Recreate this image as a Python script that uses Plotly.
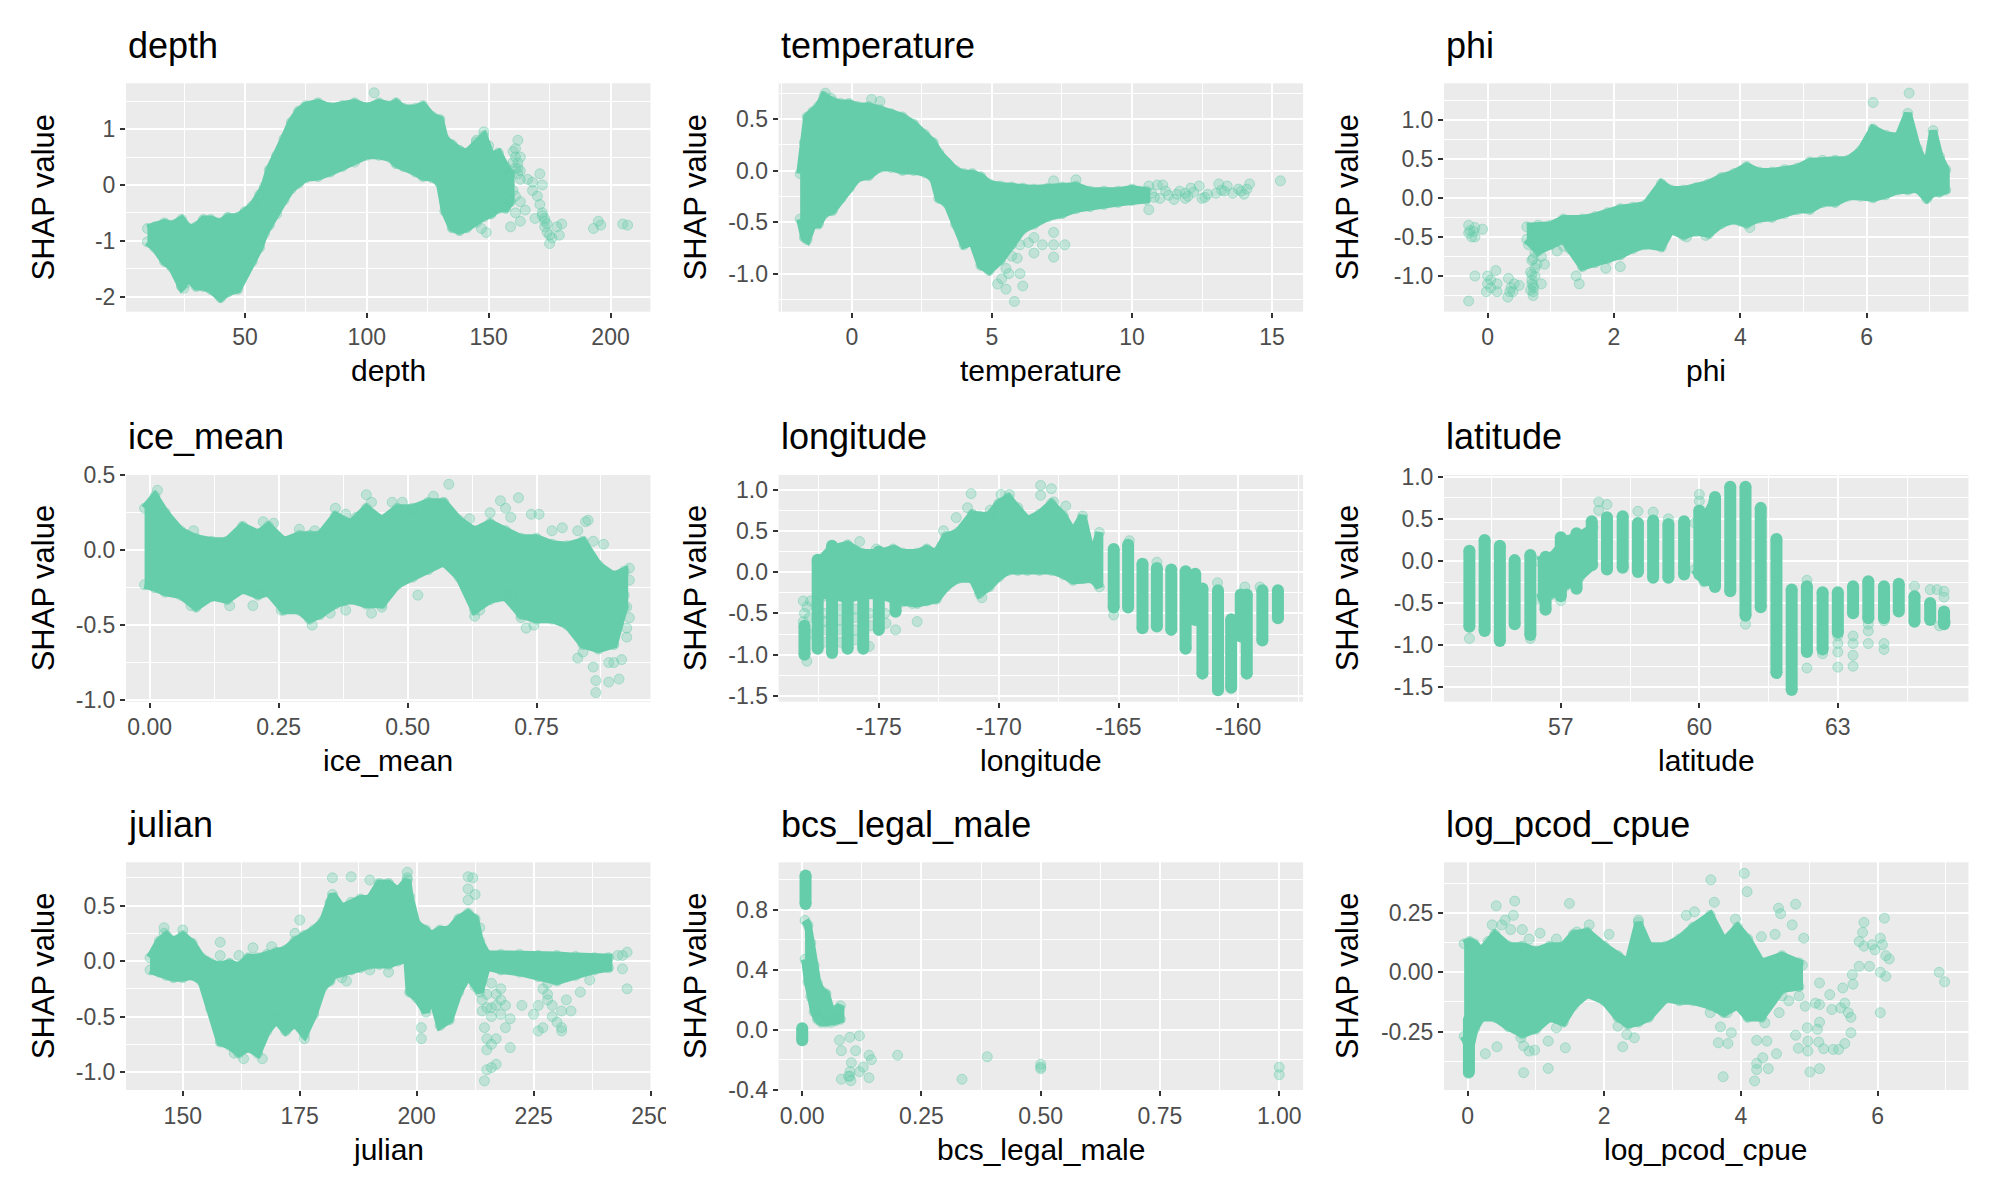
import plotly.graph_objects as go

COLOR = "#66CDAA"
FONT = "Liberation Sans"

# ---------- depth ----------
depth_x = [10,13,17,20,24,27,30,33,36,40,43,47,50,53,56,58,60,63,66,69,72,75,80,85,90,95,100,105,110,112,115,120,123,127,130,132,135,138,141,145,148,151,154,157,159]
depth_hi = [-.78,-.75,-.68,-.72,-.62,-.78,-.75,-.62,-.62,-.68,-.58,-.58,-.48,-.38,-.18,-.03,.27,.52,.82,1.12,1.32,1.42,1.47,1.39,1.42,1.47,1.39,1.47,1.42,1.47,1.37,1.37,1.42,1.22,1.17,.82,.72,.62,.57,.77,.87,.52,.57,.32,.2]
depth_lo = [-1.02,-1.12,-1.37,-1.47,-1.82,-1.67,-1.82,-1.82,-1.87,-2.02,-1.92,-1.87,-1.57,-1.37,-1.12,-.87,-.72,-.52,-.27,-.07,.03,.13,.15,.23,.33,.41,.53,.53,.48,.38,.33,.23,.15,.13,.03,-.47,-.77,-.82,-.77,-.67,-.57,-.52,-.42,-.42,-.3]
depth_px = [103,159,162,161,163,162,163,163,161,163,165,166,168,168,170,171,172,171,169,172,173,173,174,175,175,176,178,179,180,193,195,196,205,207,160,161,162,160,161,162,163,160,161,174,173,172,24,25,26,149,147,145,148,150]
depth_py = [1.65,-.75,.8,.65,.5,.3,.1,-.3,-.5,-.65,-.45,.1,.05,-.1,-.2,.2,0,-.35,-.6,-.5,-.65,-.75,-.85,-1.05,-.9,-.95,-.75,-.9,-.7,-.78,-.65,-.72,-.7,-.72,.4,.3,.2,.6,.5,.4,.25,-.1,-.2,-.7,-.6,-.55,-1.8,-1.85,-1.75,-.85,-.78,.8,.95,.7]

# ---------- temperature ----------
temp_x = [-1.85,-1.7,-1.6,-1.4,-1.2,-1.0,-.7,-.4,-.1,.2,.6,1.0,1.4,1.8,2.2,2.6,2.9,3.1,3.4,3.7,4.0,4.3,4.6,4.9,5.3,5.7,6.1,6.5,7.0,7.5,8.0,8.5,9.0,9.5,10,10.5]
temp_hi = [-.03,.27,.52,.57,.62,.72,.67,.65,.65,.62,.62,.59,.55,.52,.45,.35,.27,.17,.07,0,-.03,-.03,-.06,-.13,-.15,-.16,-.17,-.18,-.17,-.16,-.15,-.2,-.2,-.2,-.18,-.2]
temp_lo = [-.47,-.65,-.67,-.52,-.52,-.42,-.39,-.27,-.17,-.07,-.05,.03,.03,0,0,-.02,-.07,-.27,-.32,-.52,-.72,-.69,-.92,-.97,-.87,-.72,-.57,-.52,-.45,-.42,-.37,-.35,-.33,-.31,-.29,-.28]
temp_px = [5.8,5.5,5.2,5.35,5.6,6.0,6.1,5.9,5.5,5.7,6.0,6.3,6.5,6.5,6.8,7.2,7.2,7.2,7.6,11.1,11.5,11.9,12.1,12.5,12.7,13.1,13.3,13.4,13.8,14,14.2,15.3,11.2,10.6,11,12,12.4,13,10.8,11.3,11.7,12.2,12.6,13.2,13.6,14.1,13.9,10.7,11.6,11.9,.7,1.0,-.95,-.75,7.2,8.0,10.6,10.9]
temp_py = [-1.27,-1.15,-1.1,-1.05,-1.0,-1.0,-1.12,-.85,-.95,-.83,-.72,-.7,-.65,-.8,-.72,-.6,-.72,-.84,-.72,-.14,-.28,-.22,-.17,-.27,-.23,-.13,-.2,-.15,-.18,-.23,-.13,-.1,-.2,-.38,-.27,-.25,-.15,-.22,-.26,-.24,-.2,-.21,-.26,-.19,-.22,-.18,-.2,-.22,-.23,-.27,.69,.67,.75,.7,-.1,-.09,-.15,-.14]

# ---------- phi ----------
phi_x = [.62,.8,1.0,1.2,1.5,1.7,1.9,2.1,2.3,2.5,2.75,2.9,3.1,3.3,3.5,3.7,3.9,4.1,4.3,4.5,4.7,4.9,5.1,5.3,5.5,5.7,5.9,6.1,6.3,6.5,6.65,6.8,6.95,7.05,7.15,7.25]
phi_hi = [-.37,-.35,-.35,-.27,-.27,-.24,-.19,-.14,-.12,-.09,.18,.1,.1,.13,.18,.26,.31,.4,.33,.33,.36,.38,.46,.48,.48,.48,.6,.88,.8,.78,1.08,.63,.38,.86,.53,.36]
phi_lo = [-.53,-.68,-.6,-.53,-.88,-.83,-.78,-.73,-.65,-.6,-.63,-.41,-.48,-.43,-.46,-.33,-.28,-.33,-.26,-.25,-.2,-.15,-.15,-.06,-.06,.02,.02,0,.04,.1,.1,.12,-.01,.07,.07,.1]
phi_px = [-.3,-.28,-.25,-.22,-.3,-.2,-.08,-.2,-.2,0,.13,0,-.02,.05,.15,.15,.33,.32,.37,.4,.42,.5,.35,-.3,.05,.72,.7,.75,.7,.85,.72,.75,.85,.75,.9,1.1,1.2,1.3,1.4,1.45,1.87,2.1,6.1,6.67,.65,.68,.73,.78,.68,.72,4.0,4.15,3.15,3.45,.7,.72,.7]
phi_py = [-.35,-.42,-.5,-.43,-.45,-.5,-.4,-.38,-1.0,-1.0,-.93,-1.1,-1.2,-1.15,-1.1,-1.2,-1.03,-1.27,-1.15,-1.2,-1.1,-1.12,-1.2,-1.32,-1.05,-1.25,-.8,-1.0,-1.1,-1.1,-1.2,-.9,-.75,-.7,-.85,-.68,-.62,-.65,-1.0,-1.1,-.9,-.88,1.22,1.34,-.6,-.95,-1.15,-.85,-1.18,-.78,-.3,-.38,-.5,-.48,-1.05,-1.12,-.98]

# ---------- ice_mean ----------
ice_x = [-.01,.01,.03,.06,.09,.12,.15,.18,.21,.23,.26,.29,.31,.33,.36,.39,.42,.45,.48,.51,.54,.57,.60,.63,.66,.69,.72,.75,.78,.81,.84,.87,.90,.92]
ice_hi = [.28,.36,.25,.13,.08,.06,.06,.16,.11,.16,.06,.1,.1,.1,.23,.18,.28,.2,.28,.28,.32,.32,.2,.13,.18,.13,.08,.08,.04,.03,.06,-.1,-.17,-.14]
ice_lo = [-.23,-.25,-.28,-.3,-.38,-.31,-.33,-.26,-.3,-.28,-.4,-.4,-.46,-.43,-.36,-.33,-.36,-.36,-.23,-.18,-.13,-.08,-.18,-.4,-.33,-.31,-.43,-.46,-.46,-.5,-.63,-.66,-.63,-.38]
ice_px = [.015,.03,.085,.08,.155,.2,.255,.315,.42,.43,.58,.52,.68,.715,.69,.74,.755,.85,.845,.88,.82,.63,.64,.72,.73,.745,.83,.84,.86,.865,.865,.89,.91,.9,.89,.915,.925,.925,.93,.925,.92,.93,.93,.24,.22,.29,.32,.36,.38,.4,.47,.49,.55,.62,.66,.7,.78,.8,.83,.86,.43,.45,.35,.38,.27,.66,.7]
ice_py = [.4,.24,.13,-.37,-.37,-.37,-.4,-.5,.37,.32,.44,-.3,.33,.35,.28,.24,.24,.2,.19,.04,.03,-.44,-.4,-.45,-.52,-.5,-.72,-.68,-.78,-.87,-.95,-.88,-.86,-.75,-.75,-.73,-.58,-.52,-.45,-.38,-.3,-.2,-.12,.18,.19,.14,.13,.28,.24,.22,.32,.32,.36,.21,.25,.22,.13,.15,.13,.06,-.42,-.38,-.42,-.4,-.39,-.32,-.3]

# ---------- longitude ----------
lon_x = [-177.5,-177,-176.3,-175.7,-175,-174.4,-174,-173.4,-173,-172.6,-172.2,-171.7,-171.1,-170.8,-170.4,-170,-169.6,-169.2,-168.8,-168.3,-167.8,-167.3,-166.9,-166.5,-166.1,-165.8]
lon_hi = [.13,.28,.33,.23,.23,.28,.23,.23,.28,.23,.43,.48,.7,.68,.68,.83,.9,.78,.63,.7,.83,.68,.48,.68,.18,.48]
lon_lo = [-.28,-.28,-.33,-.28,-.28,-.33,-.36,-.38,-.35,-.33,-.18,-.08,-.08,-.26,-.18,-.06,.02,.02,.02,.02,.02,-.03,-.1,-.08,-.08,-.18]
lon_sx = [-178.1,-177.55,-176.95,-176.3,-175.65,-175,-174.3,-165.2,-164.6,-164,-163.4,-162.8,-162.2,-161.8,-161.5,-160.85,-160.3,-159.9,-159.65,-159,-158.35]
lon_shi = [-.65,.15,.32,.3,.2,.25,.25,.28,.33,.1,.05,.03,.01,-.02,-.2,-.22,-.57,-.27,-.27,-.22,-.22]
lon_slo = [-1.0,-.93,-.98,-.93,-.93,-.7,-.48,-.43,-.43,-.68,-.66,-.7,-.93,-.58,-1.23,-1.43,-1.4,-.78,-1.23,-.83,-.56]
lon_px = [-171.15,-171.3,-171.77,-168.25,-167.8,-168.25,-169.9,-169.55,-170.7,-173.4,-174.3,-165.2,-160.87,-159.73,-159.1,-163.4,-164.55,-167.2,-167.7,-175.8,-175.1,-170.35,-172.3,-178.15,-178.1,-178,-177.85,-178.15,-177.9,-177.75,-178,-177.3,-177.2,-177.35,-176.65,-176.6,-176,-176,-175.4,-175.4,-174.75,-173.6,-177.25,-176.65,-176,-175.35,-177.3,-176.6,-175.95,-174.7]
lon_py = [.95,.78,.66,1.05,1.01,.93,.94,.94,-.31,-.6,-.7,-.52,-.13,-.18,-.18,.12,.38,.8,.85,.37,.28,.75,.5,-.35,-.5,-.42,-.35,-.6,-.55,-.75,-1.08,-.5,-.7,-.3,-.7,-.45,-.45,-.7,-.5,-.9,-.5,-.38,-.6,-.58,-.55,-.65,-.85,-.85,-.82,-.62]

# ---------- latitude ----------
lat_x = [56.5,56.8,57.1,57.4,57.7]
lat_hi = [.0,.05,.25,.3,.4]
lat_lo = [-.45,-.4,-.3,-.2,-.05]
lat_bx = [59.9,60.1,60.3]
lat_bhi = [.45,.5,.7]
lat_blo = [-.1,-.25,-.25]
lat_sx = [55.02,55.35,55.68,56.0,56.34,56.67,57,57.34,57.67,58,58.34,58.67,59,59.33,59.67,60,60.34,60.67,61,61.33,61.67,62,62.33,62.67,63,63.33,63.66,64,64.32,64.66,65,65.3]
lat_shi = [.12,.25,.18,.01,.07,.05,.28,.33,.47,.52,.53,.45,.48,.44,.47,.6,.76,.88,.88,.63,.26,-.34,-.3,-.37,-.37,-.3,-.24,-.3,-.27,-.42,-.5,-.6]
lat_slo = [-.78,-.83,-.95,-.75,-.88,-.58,-.42,-.33,-.05,-.1,-.08,-.13,-.2,-.2,-.16,-.16,-.31,-.36,-.65,-.55,-1.33,-1.53,-1.08,-1.05,-.85,-.62,-.68,-.68,-.6,-.72,-.7,-.75]
lat_px = [55.02,56.34,57.0,57.82,58,57.82,58.67,59,59.33,60,60,61,62.33,62.67,63,63,63,63,63.33,63.33,63.33,63.33,63.66,63.66,63.66,64,64,64,64.66,64.66,65,65.15,65.3,65.3,65.3,65.2,65.33,62.33,62.33,62.33,62.33,62.67,62.67]
lat_py = [-.92,-.92,-.47,.7,.67,.6,.59,.58,.5,.79,.71,-.75,-1.27,-1.1,-1.26,-1.08,-.98,-.89,-1.25,-1.12,-.98,-.89,-.98,-.83,-.75,-.98,-1.05,-.71,-.3,-.42,-.34,-.34,-.36,-.43,-.63,-.77,-.73,-.23,-.87,-.96,-1.08,-.95,-1.05]

# ---------- julian ----------
jul_x = [143,145,146.5,148,150,152,154,156,158,160,162,164,166,168,170,172,174,176,178,180,181.5,182,184,186,188,190,192,194,196,198,198.5,200,202,203,205,207,209,211,212.5,213.5,215,218,222,226,230,234,238,241]
jul_hi = [.03,.18,.23,.18,.23,.16,.03,-.02,-.04,-.02,-.05,.03,.03,.06,.08,.1,.18,.23,.28,.36,.53,.6,.48,.53,.56,.56,.7,.7,.63,.73,.58,.33,.28,.23,.28,.28,.38,.43,.38,.18,.06,.06,.06,.05,.05,.04,.03,.03]
jul_lo = [-.08,-.1,-.13,-.15,-.15,-.13,-.18,-.43,-.73,-.76,-.83,-.78,-.83,-.63,-.53,-.63,-.56,-.66,-.48,-.23,-.18,-.13,-.1,-.08,-.06,-.03,-.03,-.03,0,.02,-.28,-.33,-.46,-.28,-.58,-.53,-.28,-.13,-.23,-.28,-.05,-.08,-.1,-.14,-.18,-.13,-.08,-.06]
jul_px = [245,244,243,244,245,228,228,222.5,225,226,226,227,229,231,231,232,230,227,228,229,231,233,235,237,214,214.5,215,215,216,217,216,218,218,219,220,217,216,214,215,220,214.5,215,216,217,200,201,201,182,186,190,198,198,211,212,211,212.5,211,155,158,158,162,165,169,175,174,146,150,146,184,185,194,190,176,161,163,167,213.5,214,215,216,217,218,219]
jul_py = [.08,.05,.05,-.07,-.25,-.3,-.35,-.4,-.48,-.4,-.63,-.6,-.5,-.6,-.63,-.35,-.55,-.25,-.2,-.4,-.45,-.45,-.28,-.17,-.45,-.6,-.7,-.8,-.75,-.7,-.5,-.35,-.25,-.4,-.52,-.3,-.2,-.15,-.3,-.78,-1.08,-.98,-.96,-.93,-.3,-.6,-.7,.75,.76,.73,.8,.75,.76,.75,.65,.6,.55,0,.17,.05,.05,.12,.13,.37,.25,.3,.28,.25,-.15,-.18,-.1,-.08,-.7,-.83,-.88,-.88,.3,-.35,-.42,-.42,-.4,-.48,-.6,-.45]

# ---------- bcs_legal_male ----------
bcs_x = [.006,.012,.018,.025,.032,.04,.05,.06,.07,.08]
bcs_hi = [.73,.7,.58,.43,.31,.26,.24,.13,.13,.16]
bcs_lo = [.47,.32,.22,.12,.07,.05,.05,.05,.06,.07]
bcs_sx = [.007,0]
bcs_shi = [1.03,.01]
bcs_slo = [.84,-.07]
bcs_px = [.078,.1,.12,.082,.112,.14,.145,.2,.388,.5,.5,.5,1,1,.103,.128,.12,.1,.1,.082,.102,.14,.335,.097]
bcs_py = [-.07,-.05,-.04,-.14,-.14,-.17,-.2,-.17,-.18,-.23,-.25,-.26,-.25,-.3,-.22,-.25,-.28,-.28,-.31,-.33,-.34,-.32,-.33,-.31]

# ---------- log_pcod_cpue ----------
pcod_x = [-.05,.03,.1,.2,.4,.6,.8,1,1.2,1.4,1.55,1.75,2,2.2,2.35,2.5,2.65,2.9,3.1,3.3,3.55,3.75,3.95,4.1,4.3,4.6,4.85]
pcod_hi = [.12,.13,.12,.09,.16,.11,.11,.09,.11,.11,.16,.17,.11,.07,.04,.21,.11,.11,.14,.19,.24,.13,.19,.14,.04,.07,.04]
pcod_lo = [-.27,-.33,-.24,-.19,-.19,-.23,-.26,-.24,-.19,-.21,-.14,-.09,-.12,-.19,-.22,-.21,-.19,-.11,-.12,-.12,-.14,-.17,-.14,-.19,-.19,-.07,-.06]
pcod_sx = [.02]
pcod_shi = [-.2]
pcod_slo = [-.42]
pcod_px = [.42,.69,1.49,.36,.67,.55,.8,.63,1.06,1.78,2.07,2.5,3.2,3.32,3.56,4.05,4.09,3.61,3.92,4.55,4.58,4.8,4.75,4.92,4.5,4.3,5.8,6.1,5.78,5.73,5.8,5.92,5.96,6.04,6.07,6.12,6.17,5.73,5.88,6.04,6.12,5.63,5.64,5.49,6.04,6.9,6.98,5.15,5.3,5.09,5.15,4.94,5.33,5.46,5.52,5.57,5.61,5.15,4.97,5.61,5.12,4.8,4.98,4.84,4.98,5.14,5.21,5.35,5.43,5.52,5.15,5.01,4.52,4.4,4.23,4.2,3.74,4.32,4.23,4.23,4.38,4.35,3.67,3.81,3.7,3.86,3.8,3.55,4.56,2.27,2.44,2.2,2.33,1.18,.82,.26,.43,1.43,.98,.9,1.18,.82,.78,.63,1.3,.01,.01,.3,.5,.9,1.3,1.6,4.9,4.85,4.7,4.6]
pcod_py = [.28,.3,.29,.2,.24,.22,.18,.18,.165,.2,.16,.22,.24,.255,.39,.417,.34,.295,.224,.27,.247,.287,.2,.144,.16,.15,.21,.228,.168,.13,.11,.116,.095,.144,.116,.07,.056,.025,.025,0,-.017,-.01,-.05,-.066,-.17,0,-.04,-.045,-.094,-.13,-.136,-.143,-.157,-.15,-.13,-.17,-.19,-.21,-.234,-.255,-.24,-.265,-.29,-.32,-.332,-.294,-.322,-.325,-.325,-.3,-.406,-.42,-.343,-.406,-.41,-.458,-.44,-.36,-.384,-.287,-.29,-.213,-.297,-.3,-.23,-.255,-.17,-.17,-.17,-.314,-.276,-.227,-.262,-.405,-.423,-.343,-.314,-.318,-.328,-.332,-.29,-.31,-.276,-.227,-.234,-.426,-.39,.13,.2,.14,.14,.17,.03,-.1,-.12,-.1]

titles = ["depth","temperature","phi","ice_mean","longitude","latitude","julian","bcs_legal_male","log_pcod_cpue"]
x_ranges = [[1.2,216.4],[-2.62,16.11],[-.69,7.61],[-.046,.971],[-179.18,-157.3],[54.47,65.83],[137.86,250.0],[-.0495,1.05],[-.345,7.33]]
y_ranges = [[-2.27,1.82],[-1.369,.846],[-1.456,1.465],[-1.011,.502],[-1.57,1.176],[-1.67,1.02],[-1.162,.89],[-.402,1.118],[-.496,.4636]]
x_ticks = [[50,100,150,200],[0,5,10,15],[0,2,4,6],[0,.25,.5,.75],[-175,-170,-165,-160],[57,60,63],[150,175,200,225,250],[0,.25,.5,.75,1],[0,2,4,6]]
x_labels = [["50","100","150","200"],["0","5","10","15"],["0","2","4","6"],["0.00","0.25","0.50","0.75"],["-175","-170","-165","-160"],["57","60","63"],["150","175","200","225","250"],["0.00","0.25","0.50","0.75","1.00"],["0","2","4","6"]]
x_minor = [[25,75,125,175],[-2.5,2.5,7.5,12.5],[1,3,5,7],[.125,.375,.625,.875],[-177.5,-172.5,-167.5,-162.5,-157.5],[55.5,58.5,61.5,64.5],[162.5,187.5,212.5,237.5],[.125,.375,.625,.875],[1,3,5,7]]
y_ticks = [[-2,-1,0,1],[-1,-.5,0,.5],[-1,-.5,0,.5,1],[-1,-.5,0,.5],[-1.5,-1,-.5,0,.5,1],[-1.5,-1,-.5,0,.5,1],[-1,-.5,0,.5],[-.4,0,.4,.8],[-.25,0,.25]]
y_labels = [["-2","-1","0","1"],["-1.0","-0.5","0.0","0.5"],["-1.0","-0.5","0.0","0.5","1.0"],["-1.0","-0.5","0.0","0.5"],["-1.5","-1.0","-0.5","0.0","0.5","1.0"],["-1.5","-1.0","-0.5","0.0","0.5","1.0"],["-1.0","-0.5","0.0","0.5"],["-0.4","0.0","0.4","0.8"],["-0.25","0.00","0.25"]]
y_minor = [[-1.5,-.5,.5,1.5],[-1.25,-.75,-.25,.25,.75],[-1.25,-.75,-.25,.25,.75,1.25],[-.75,-.25,.25],[-1.25,-.75,-.25,.25,.75],[-1.25,-.75,-.25,.25,.75],[-.75,-.25,.25,.75],[-.2,.2,.6,1],[-.375,-.125,.125,.375]]

bands = [[(depth_x,depth_hi,depth_lo)],[(temp_x,temp_hi,temp_lo)],[(phi_x,phi_hi,phi_lo)],[(ice_x,ice_hi,ice_lo)],[(lon_x,lon_hi,lon_lo)],[(lat_x,lat_hi,lat_lo),(lat_bx,lat_bhi,lat_blo)],[(jul_x,jul_hi,jul_lo)],[(bcs_x,bcs_hi,bcs_lo)],[(pcod_x,pcod_hi,pcod_lo)]]
stripes = [None,None,None,None,(lon_sx,lon_shi,lon_slo),(lat_sx,lat_shi,lat_slo),None,(bcs_sx,bcs_shi,bcs_slo),(pcod_sx,pcod_shi,pcod_slo)]
points = [(depth_px,depth_py),(temp_px,temp_py),(phi_px,phi_py),(ice_px,ice_py),(lon_px,lon_py),(lat_px,lat_py),(jul_px,jul_py),(bcs_px,bcs_py),(pcod_px,pcod_py)]

W, H = 2000, 1200
PAGE = 8  # the browser's default page margin
col_l = [126 - PAGE, 778.6 - PAGE, 1444 - PAGE]
PW = 524.5
row_t = [83.3 - PAGE, 475 - PAGE, 862.3 - PAGE]
row_b = [311.7 - PAGE, 701.7 - PAGE, 1090 - PAGE]
ylab_x = [43 - PAGE, 695 - PAGE, 1347 - PAGE]

fig = go.Figure()
marker = dict(color="rgba(102,205,170,0.32)", size=10, line=dict(color="rgba(102,205,170,0.45)", width=1))
solid = dict(color=COLOR, size=12)
annotations = []
layout = {}
for i, name in enumerate(titles):
    n = "" if i == 0 else str(i + 1)
    xa, ya = "x" + n, "y" + n
    c, r = i % 3, i // 3
    for bx, bh, bl in bands[i]:
        fig.add_trace(go.Scatter(x=bx + bx[::-1], y=bh + bl[::-1], mode="lines", fill="toself",
                                 fillcolor=COLOR, line=dict(color=COLOR, width=8), xaxis=xa, yaxis=ya,
                                 hoverinfo="skip", showlegend=False))
        fig.add_trace(go.Scatter(x=bx + bx, y=bh + bl, mode="markers", marker=marker, xaxis=xa, yaxis=ya,
                                 hoverinfo="skip", showlegend=False))
    if stripes[i]:
        sx, sh, sl = stripes[i]
        lx, ly = [], []
        for a, h, l in zip(sx, sh, sl):
            lx += [a, a, None]
            ly += [h, l, None]
        fig.add_trace(go.Scatter(x=lx, y=ly, mode="lines", line=dict(color=COLOR, width=12), xaxis=xa, yaxis=ya,
                                 hoverinfo="skip", showlegend=False))
        fig.add_trace(go.Scatter(x=sx + sx, y=sh + sl, mode="markers", marker=solid, xaxis=xa, yaxis=ya,
                                 hoverinfo="skip", showlegend=False))
    fig.add_trace(go.Scatter(x=points[i][0], y=points[i][1], mode="markers", marker=marker, xaxis=xa, yaxis=ya,
                             hoverinfo="skip", showlegend=False))
    common = dict(showgrid=True, gridcolor="white", gridwidth=2, zeroline=False, showline=False, automargin=False,
                  ticks="outside", ticklen=5, tickwidth=1.5, tickcolor="#333333", tickmode="array",
                  tickfont=dict(family=FONT, size=23, color="#4D4D4D"), layer="below traces")
    layout["xaxis" + n] = dict(common, domain=[col_l[c] / W, (col_l[c] + PW) / W], range=x_ranges[i],
                               tickvals=x_ticks[i], ticktext=x_labels[i], anchor=ya,
                               minor=dict(tickvals=x_minor[i], showgrid=True, gridcolor="white", gridwidth=1, ticks=""))
    layout["yaxis" + n] = dict(common, domain=[1 - row_b[r] / H, 1 - row_t[r] / H], range=y_ranges[i],
                               tickvals=y_ticks[i], ticktext=y_labels[i], anchor=xa,
                               minor=dict(tickvals=y_minor[i], showgrid=True, gridcolor="white", gridwidth=1, ticks=""))
    annotations.append(dict(text=name, xref="paper", yref="paper", x=col_l[c] / W, y=1 - (row_t[r] - 38) / H,
                            xanchor="left", yanchor="middle", showarrow=False, font=dict(family=FONT, size=36, color="black")))
    annotations.append(dict(text=name, xref="paper", yref="paper", x=(col_l[c] + PW / 2) / W, y=1 - (row_b[r] + 59) / H,
                            xanchor="center", yanchor="middle", showarrow=False, font=dict(family=FONT, size=30, color="black")))
    annotations.append(dict(text="SHAP value", xref="paper", yref="paper", x=ylab_x[c] / W, y=1 - (row_t[r] + row_b[r]) / 2 / H,
                            xanchor="center", yanchor="middle", textangle=-90, showarrow=False, font=dict(family=FONT, size=31, color="black")))

fig.update_layout(width=W, height=H, margin=dict(l=0, r=0, t=0, b=0), plot_bgcolor="#EBEBEB", paper_bgcolor="white",
                  annotations=annotations, showlegend=False,
                  shapes=[dict(type="rect", xref="paper", yref="paper", x0=(666 - PAGE) / W, x1=(700 - PAGE) / W,
                               y0=1 - (1135 - PAGE) / H, y1=1 - (1100 - PAGE) / H, fillcolor="white", line=dict(width=0), layer="above")],
                  **layout)
fig.write_html("out.html")
